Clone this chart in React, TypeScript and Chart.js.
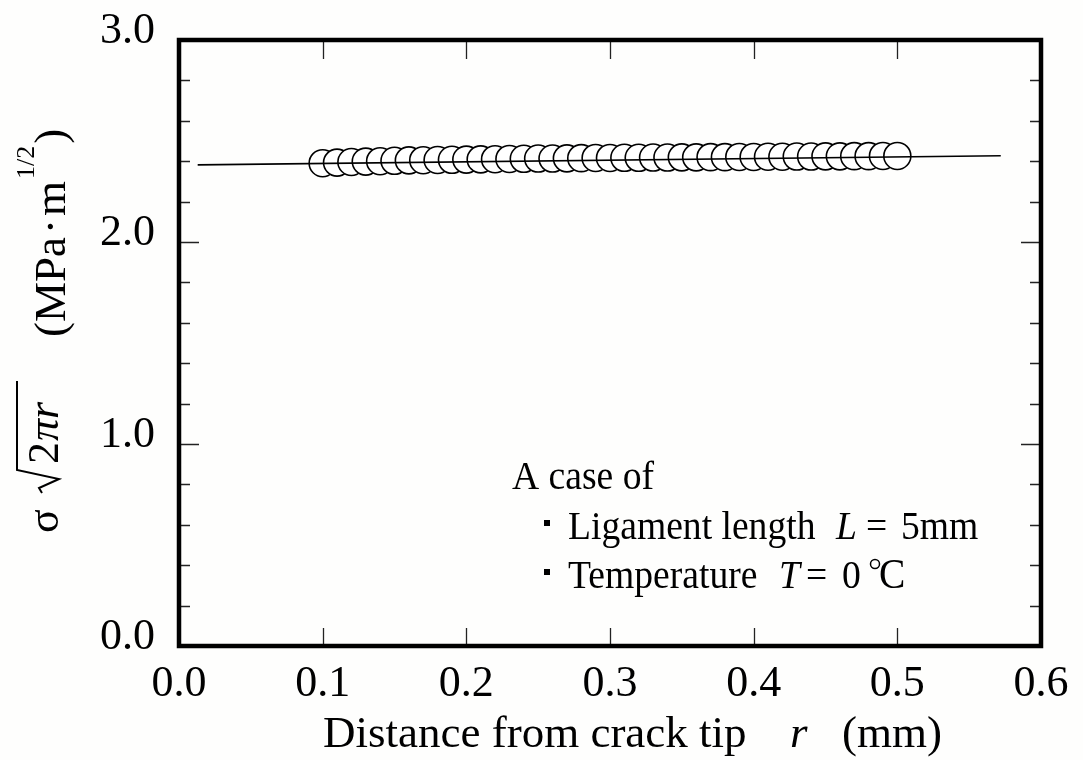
import React, { useEffect, useRef } from "react";
import { Chart, registerables } from "chart.js";

Chart.register(...registerables);

// Measured points: normalized stress sigma*sqrt(2*pi*r) against distance r
const rValues = [
  0.1, 0.11, 0.12, 0.13, 0.14, 0.15, 0.16, 0.17, 0.18, 0.19, 0.2, 0.21, 0.22, 0.23,
  0.24, 0.25, 0.26, 0.27, 0.28, 0.29, 0.3, 0.31, 0.32, 0.33, 0.34, 0.35, 0.36, 0.37,
  0.38, 0.39, 0.4, 0.41, 0.42, 0.43, 0.44, 0.45, 0.46, 0.47, 0.48, 0.49, 0.5,
];
const kValues = [
  2.39, 2.393, 2.396, 2.398, 2.4, 2.402, 2.404, 2.405, 2.406, 2.407, 2.408, 2.409,
  2.41, 2.411, 2.412, 2.413, 2.413, 2.414, 2.415, 2.416, 2.416, 2.417, 2.417, 2.418,
  2.418, 2.419, 2.419, 2.42, 2.42, 2.421, 2.421, 2.422, 2.422, 2.423, 2.423, 2.424,
  2.424, 2.425, 2.425, 2.426, 2.426,
];

// Fitted straight line through the points
const fitR = [0.013, 0.572];
const fitK = [2.382, 2.427];

// Axis ticks
const xTickValues = [0.1, 0.2, 0.3, 0.4, 0.5];
const yMajorTicks = [1.0, 2.0];
const yMinorTicks = [0.2, 0.4, 0.6, 0.8, 1.2, 1.4, 1.6, 1.8, 2.2, 2.4, 2.6, 2.8];

const SERIF = '"Liberation Serif", "Times New Roman", serif';

// draw a text run squeezed horizontally by sx
function squeezed(ctx: CanvasRenderingContext2D, text: string, x: number, y: number, sx: number) {
  ctx.save();
  ctx.translate(x, y);
  ctx.scale(sx, 1);
  ctx.fillText(text, 0, 0);
  ctx.restore();
}

const framePlugin = {
  id: "frameAndTitles",
  afterDraw(chart: any) {
    const { ctx, chartArea } = chart;
    const xs = chart.scales.x;
    const ys = chart.scales.y;
    const { left, right, top, bottom } = chartArea;

    ctx.save();
    // inward tick marks on all four sides
    ctx.strokeStyle = "#222";
    ctx.lineWidth = 1.3;
    ctx.beginPath();
    for (const v of xTickValues) {
      const px = Math.round(xs.getPixelForValue(v)) + 0.5;
      ctx.moveTo(px, bottom);
      ctx.lineTo(px, bottom - 18);
      ctx.moveTo(px, top);
      ctx.lineTo(px, top + 19);
    }
    for (const v of yMajorTicks) {
      const py = Math.round(ys.getPixelForValue(v)) + 0.5;
      ctx.moveTo(left, py);
      ctx.lineTo(left + 20, py);
      ctx.moveTo(right, py);
      ctx.lineTo(right - 20, py);
    }
    for (const v of yMinorTicks) {
      const py = Math.round(ys.getPixelForValue(v)) + 0.5;
      ctx.moveTo(left, py);
      ctx.lineTo(left + 11, py);
      ctx.moveTo(right, py);
      ctx.lineTo(right - 11, py);
    }
    ctx.stroke();

    // heavy frame
    ctx.strokeStyle = "#000";
    ctx.lineWidth = 4.5;
    ctx.strokeRect(left, top, right - left, bottom - top);

    ctx.fillStyle = "#000";
    ctx.textBaseline = "alphabetic";
    ctx.textAlign = "left";

    // x-axis title
    ctx.font = `45px ${SERIF}`;
    ctx.fillText("Distance from crack tip", 323, 747);
    ctx.font = `italic 45px ${SERIF}`;
    ctx.fillText("r", 790, 747);
    ctx.font = `45px ${SERIF}`;
    ctx.fillText("(mm)", 842, 747);

    // y-axis title, rotated to read bottom-to-top
    ctx.save();
    ctx.translate(58, 533);
    ctx.rotate(-Math.PI / 2);
    ctx.font = `44px ${SERIF}`;
    ctx.fillText("σ", 0, 0);
    // radical sign
    ctx.strokeStyle = "#000";
    ctx.lineWidth = 2;
    ctx.beginPath();
    ctx.moveTo(40, -16);
    ctx.lineTo(45, -19);
    ctx.lineTo(54, 1);
    ctx.lineTo(63, -41);
    ctx.lineTo(152, -41);
    ctx.stroke();
    ctx.font = `44px ${SERIF}`;
    ctx.fillText("2", 69, 0);
    ctx.font = `italic 44px ${SERIF}`;
    ctx.fillText("πr", 92, 0);
    ctx.restore();

    ctx.save();
    ctx.translate(65, 533);
    ctx.rotate(-Math.PI / 2);
    ctx.font = `45px ${SERIF}`;
    let u = 196;
    ctx.fillText("(MPa", u, 0);
    u += ctx.measureText("(MPa").width;
    ctx.fillText("·", u + 3, 0);
    u += ctx.measureText("·").width + 6;
    ctx.fillText("m", u, 0);
    u += ctx.measureText("m").width;
    ctx.font = `26px ${SERIF}`;
    ctx.fillText("1/2", u + 2, -31);
    u += ctx.measureText("1/2").width + 4;
    ctx.font = `45px ${SERIF}`;
    ctx.fillText(")", u, 0);
    ctx.restore();

    // annotation
    const sx = 0.94;
    ctx.font = `40px ${SERIF}`;
    squeezed(ctx, "A case of", 512, 489, sx);
    ctx.fillRect(544, 520, 6, 6);
    ctx.fillRect(544, 569, 6, 6);
    squeezed(ctx, "Ligament length", 568, 539, sx);
    ctx.font = `italic 40px ${SERIF}`;
    squeezed(ctx, "L", 836, 539, sx);
    ctx.font = `40px ${SERIF}`;
    squeezed(ctx, "=", 866, 539, sx);
    squeezed(ctx, "5mm", 901, 539, sx);
    squeezed(ctx, "Temperature", 568, 588, sx);
    ctx.font = `italic 40px ${SERIF}`;
    squeezed(ctx, "T", 779, 588, sx);
    ctx.font = `40px ${SERIF}`;
    squeezed(ctx, "=", 806, 588, sx);
    squeezed(ctx, "0", 842, 588, sx);
    // degree Celsius sign built from a small ring and a serif C
    ctx.strokeStyle = "#000";
    ctx.lineWidth = 1.5;
    ctx.beginPath();
    ctx.arc(875, 564, 4.5, 0, Math.PI * 2);
    ctx.stroke();
    ctx.font = `42px ${SERIF}`;
    squeezed(ctx, "C", 879, 588, sx);

    ctx.restore();
  },
};

const bgPlugin = {
  id: "paper",
  beforeDraw(chart: any) {
    const { ctx, width, height } = chart;
    ctx.save();
    ctx.fillStyle = "#fefefd";
    ctx.fillRect(0, 0, width, height);
    ctx.restore();
  },
};

export default function App() {
  const canvasRef = useRef<HTMLCanvasElement | null>(null);

  useEffect(() => {
    if (!canvasRef.current) return;
    const chart = new Chart(canvasRef.current, {
      type: "scatter",
      data: {
        datasets: [
          {
            label: "fit",
            type: "line",
            data: fitR.map((r, i) => ({ x: r, y: fitK[i] })),
            borderColor: "#000",
            borderWidth: 1.6,
            pointRadius: 0,
            fill: false,
          },
          {
            label: "data",
            data: rValues.map((r, i) => ({ x: r, y: kValues[i] })),
            pointRadius: 13.5,
            pointBackgroundColor: "#ffffff",
            pointBorderColor: "#000",
            pointBorderWidth: 1.6,
          },
        ],
      },
      options: {
        animation: false,
        responsive: false,
        layout: { padding: { left: 0, right: 42, top: 40, bottom: 0 } },
        plugins: {
          legend: { display: false },
          tooltip: { enabled: false },
        },
        scales: {
          x: {
            type: "linear",
            min: 0,
            max: 0.6,
            grid: { display: false, drawTicks: false, tickLength: 0 },
            border: { display: false },
            ticks: {
              stepSize: 0.1,
              padding: 12,
              color: "#000",
              font: { family: SERIF, size: 44 },
              maxRotation: 0,
              callback: (v: any) => Number(v).toFixed(1),
            },
            afterFit: (s: any) => {
              s.height = 114;
              s.paddingLeft = 0;
              s.paddingRight = 0;
            },
          },
          y: {
            type: "linear",
            min: 0,
            max: 3,
            grid: { display: false, drawTicks: false, tickLength: 0 },
            border: { display: false },
            ticks: {
              stepSize: 1,
              padding: 24,
              labelOffset: -9,
              color: "#000",
              font: { family: SERIF, size: 44 },
              callback: (v: any) => Number(v).toFixed(1),
            },
            afterFit: (s: any) => {
              s.width = 179;
              s.paddingTop = 0;
              s.paddingBottom = 0;
            },
          },
        },
      },
      plugins: [bgPlugin, framePlugin],
    });
    return () => chart.destroy();
  }, []);

  return (
    <div style={{ position: "fixed", left: 0, top: 0, width: 1083, height: 760 }}>
      <canvas ref={canvasRef} width={1083} height={760} style={{ width: 1083, height: 760 }} />
    </div>
  );
}
